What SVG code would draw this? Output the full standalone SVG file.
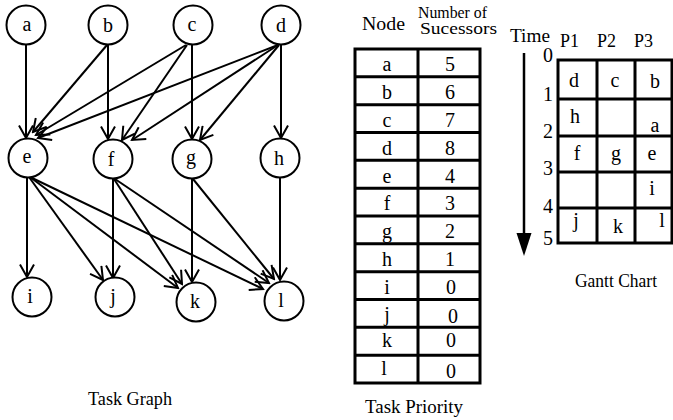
<svg xmlns="http://www.w3.org/2000/svg" width="673" height="420" viewBox="0 0 673 420">
<style>
  text { font-family: "Liberation Serif", "Times New Roman", serif; fill: #000; }
  .node circle { fill: #fff; stroke: #000; stroke-width: 2; }
  .node text { font-size: 20px; text-anchor: middle; }
  .edge { stroke: #000; stroke-width: 2; fill: none; marker-end: url(#arr); }
  .grid { stroke: #000; stroke-width: 3; fill: none; }
  .cell { font-size: 20px; text-anchor: middle; }
  .hdr { font-size: 18px; }
  .hdr2 { font-size: 16px; }
  .cap { font-size: 18px; }
</style>
<defs>
  <marker id="arr" viewBox="0 0 16 16" refX="14" refY="8" markerWidth="16" markerHeight="16" markerUnits="userSpaceOnUse" orient="auto">
    <path d="M1.5,1 L14,8 L1.5,15" fill="none" stroke="#000" stroke-width="2"/>
  </marker>
</defs>
<rect width="673" height="420" fill="#fff"/>

<g id="connectors">
  <path class="edge" d="M26,45 L26,138"/>
  <path class="edge" d="M107,45 L33,132"/>
  <path class="edge" d="M108,45 L108,139"/>
  <path class="edge" d="M186,45 L36,135"/>
  <path class="edge" d="M187,45 L122,140"/>
  <path class="edge" d="M192,45 L192,139"/>
  <path class="edge" d="M278,45 L38,138"/>
  <path class="edge" d="M278,45 L132,140"/>
  <path class="edge" d="M279,45 L200,140"/>
  <path class="edge" d="M281,45 L281,138"/>
  <path class="edge" d="M27,178 L27,277"/>
  <path class="edge" d="M29,177 L103,280"/>
  <path class="edge" d="M30,177 L178,288"/>
  <path class="edge" d="M30,177 L263,289"/>
  <path class="edge" d="M113,179 L113,278"/>
  <path class="edge" d="M114,179 L182,284"/>
  <path class="edge" d="M115,179 L269,283"/>
  <path class="edge" d="M192,179 L192,282"/>
  <path class="edge" d="M193,179 L274,279"/>
  <path class="edge" d="M280,178 L280,280"/>
</g>

<g id="node-a" class="node"><circle cx="26" cy="25" r="19.5"/><text x="27" y="31">a</text></g>
<g id="node-b" class="node"><circle cx="108" cy="25" r="19.5"/><text x="108" y="32">b</text></g>
<g id="node-c" class="node"><circle cx="193" cy="25" r="19.5"/><text x="192" y="31">c</text></g>
<g id="node-d" class="node"><circle cx="281" cy="25" r="19.5"/><text x="281" y="32">d</text></g>
<g id="node-e" class="node"><circle cx="28" cy="158" r="19.5"/><text x="27" y="163">e</text></g>
<g id="node-f" class="node"><circle cx="113" cy="159" r="19.5"/><text x="111" y="166">f</text></g>
<g id="node-g" class="node"><circle cx="192" cy="159" r="19.5"/><text x="191" y="164">g</text></g>
<g id="node-h" class="node"><circle cx="280" cy="158" r="19.5"/><text x="279" y="165">h</text></g>
<g id="node-i" class="node"><circle cx="32" cy="297" r="19.5"/><text x="30" y="303">i</text></g>
<g id="node-j" class="node"><circle cx="115" cy="297" r="19.5"/><text x="113" y="303">j</text></g>
<g id="node-k" class="node"><circle cx="196" cy="302" r="19.5"/><text x="195" y="308">k</text></g>
<g id="node-l" class="node"><circle cx="284" cy="301" r="19.5"/><text x="281" y="307">l</text></g>

<text class="cap" x="88" y="405" textLength="84" lengthAdjust="spacingAndGlyphs">Task Graph</text>

<g id="task-priority">
  <text class="hdr" x="362" y="30" textLength="43" lengthAdjust="spacingAndGlyphs">Node</text>
  <text class="hdr2" x="418" y="18" textLength="69" lengthAdjust="spacingAndGlyphs">Number of</text>
  <text class="hdr2" x="420" y="34" textLength="77" lengthAdjust="spacingAndGlyphs">Sucessors</text>
  <rect class="grid" x="355" y="49" width="125" height="334"/>
  <path class="grid" d="M418,49 V383 M355,76.8 H480 M355,104.7 H480 M355,132.5 H480 M355,160.3 H480 M355,188.2 H480 M355,216 H480 M355,243.8 H480 M355,271.7 H480 M355,299.5 H480 M355,327.3 H480 M355,355.2 H480"/>
  <g class="cell">
    <text x="387" y="71">a</text><text x="450" y="71">5</text>
    <text x="387" y="99">b</text><text x="450" y="99">6</text>
    <text x="387" y="127">c</text><text x="450" y="127">7</text>
    <text x="387" y="155">d</text><text x="450" y="155">8</text>
    <text x="387" y="183">e</text><text x="450" y="183">4</text>
    <text x="387" y="210">f</text><text x="450" y="210">3</text>
    <text x="387" y="238">g</text><text x="450" y="238">2</text>
    <text x="387" y="266">h</text><text x="450" y="266">1</text>
    <text x="387" y="294">i</text><text x="451" y="294">0</text>
    <text x="387" y="321">j</text><text x="453" y="323">0</text>
    <text x="387" y="347">k</text><text x="451" y="347">0</text>
    <text x="384" y="375">l</text><text x="451" y="378">0</text>
  </g>
  <text class="cap" x="365" y="413" textLength="98" lengthAdjust="spacingAndGlyphs">Task Priority</text>
</g>

<g id="gantt-chart">
  <text class="hdr" x="510" y="42" textLength="40" lengthAdjust="spacingAndGlyphs">Time</text>
  <text class="hdr" x="560" y="47">P1</text>
  <text class="hdr" x="597" y="47">P2</text>
  <text class="hdr" x="634" y="47">P3</text>
  <g class="cell">
    <text x="548" y="62">0</text>
    <text x="548" y="101">1</text>
    <text x="548" y="138">2</text>
    <text x="548" y="175">3</text>
    <text x="548" y="213">4</text>
    <text x="548" y="245">5</text>
  </g>
  <path d="M524,53 V236" stroke="#000" stroke-width="2.5" fill="none"/>
  <polygon points="516.5,233 531.5,233 524,256" fill="#000"/>
  <rect class="grid" x="558" y="60" width="114" height="183"/>
  <path class="grid" d="M597,60 V243 M635,60 V243 M558,99 H672 M558,136 H672 M558,172 H672 M558,208 H672"/>
  <g class="cell">
    <text x="574" y="87">d</text><text x="615" y="87">c</text><text x="655" y="88">b</text>
    <text x="575" y="123">h</text><text x="655" y="132">a</text>
    <text x="577" y="160">f</text><text x="616" y="160">g</text><text x="652" y="160">e</text>
    <text x="652" y="195">i</text>
    <text x="576" y="227">j</text><text x="618" y="233">k</text><text x="662" y="227">l</text>
  </g>
  <text class="cap" x="575" y="287" textLength="82" lengthAdjust="spacingAndGlyphs">Gantt Chart</text>
</g>
</svg>
